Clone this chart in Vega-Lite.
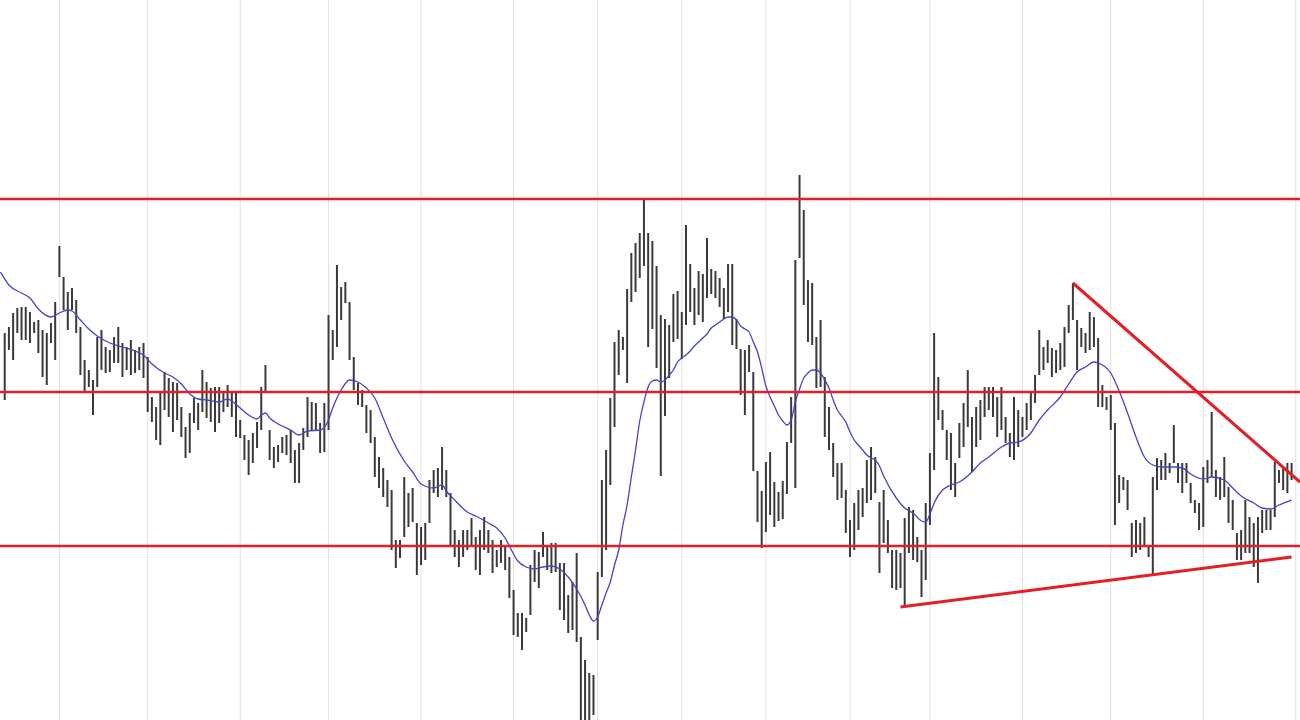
{
  "$schema": "https://vega.github.io/schema/vega-lite/v6.json",
  "width": 1300,
  "height": 720,
  "padding": 0,
  "autosize": {"type": "fit", "contains": "padding"},
  "background": "white",
  "config": {"view": {"stroke": null}},
  "datasets": {
    "bars": [
      {"i":0,"h":387,"l":320},{"i":1,"h":393,"l":370},{"i":2,"h":407,"l":360},{"i":3,"h":412,"l":387},{"i":4,"h":413,"l":380},{"i":5,"h":413,"l":380},{"i":6,"h":408,"l":377},{"i":7,"h":398,"l":387},{"i":8,"h":400,"l":367},{"i":9,"h":390,"l":343},
      {"i":10,"h":387,"l":335},{"i":11,"h":397,"l":377},{"i":12,"h":418,"l":360},{"i":13,"h":474,"l":443},{"i":14,"h":443,"l":410},{"i":15,"h":428,"l":390},{"i":16,"h":432,"l":410},{"i":17,"h":420,"l":387},{"i":18,"h":393,"l":345},{"i":19,"h":360,"l":327},
      {"i":20,"h":350,"l":333},{"i":21,"h":340,"l":305},{"i":22,"h":383,"l":333},{"i":23,"h":390,"l":350},{"i":24,"h":373,"l":347},{"i":25,"h":370,"l":348},{"i":26,"h":383,"l":357},{"i":27,"h":393,"l":357},{"i":28,"h":377,"l":343},{"i":29,"h":373,"l":350},
      {"i":30,"h":380,"l":345},{"i":31,"h":370,"l":347},{"i":32,"h":373,"l":350},{"i":33,"h":377,"l":342},{"i":34,"h":363,"l":308},{"i":35,"h":323,"l":298},{"i":36,"h":313,"l":280},{"i":37,"h":327,"l":275},{"i":38,"h":348,"l":310},{"i":39,"h":342,"l":303},
      {"i":40,"h":338,"l":288},{"i":41,"h":337,"l":300},{"i":42,"h":313,"l":283},{"i":43,"h":293,"l":262},{"i":44,"h":307,"l":267},{"i":45,"h":322,"l":297},{"i":46,"h":317,"l":290},{"i":47,"h":350,"l":308},{"i":48,"h":338,"l":302},{"i":49,"h":332,"l":298},
      {"i":50,"h":333,"l":288},{"i":51,"h":333,"l":297},{"i":52,"h":328,"l":308},{"i":53,"h":335,"l":313},{"i":54,"h":327,"l":303},{"i":55,"h":327,"l":283},{"i":56,"h":300,"l":282},{"i":57,"h":285,"l":260},{"i":58,"h":280,"l":245},{"i":59,"h":287,"l":257},
      {"i":60,"h":298,"l":272},{"i":61,"h":333,"l":290},{"i":62,"h":355,"l":327},{"i":63,"h":290,"l":260},{"i":64,"h":273,"l":252},{"i":65,"h":275,"l":258},{"i":66,"h":283,"l":267},{"i":67,"h":285,"l":265},{"i":68,"h":290,"l":257},{"i":69,"h":270,"l":237},
      {"i":70,"h":277,"l":237},{"i":71,"h":292,"l":270},{"i":72,"h":323,"l":283},{"i":73,"h":318,"l":290},{"i":74,"h":317,"l":290},{"i":75,"h":297,"l":267},{"i":76,"h":317,"l":268},{"i":77,"h":405,"l":290},{"i":78,"h":390,"l":360},{"i":79,"h":455,"l":373},
      {"i":80,"h":433,"l":400},{"i":81,"h":438,"l":417},{"i":82,"h":418,"l":360},{"i":83,"h":363,"l":330},{"i":84,"h":337,"l":315},{"i":85,"h":330,"l":313},{"i":86,"h":315,"l":287},{"i":87,"h":310,"l":277},{"i":88,"h":283,"l":243},{"i":89,"h":263,"l":232},
      {"i":90,"h":252,"l":223},{"i":91,"h":240,"l":213},{"i":92,"h":230,"l":170},{"i":93,"h":180,"l":152},{"i":94,"h":180,"l":162},{"i":95,"h":243,"l":183},{"i":96,"h":227,"l":193},{"i":97,"h":232,"l":198},{"i":98,"h":197,"l":145},{"i":99,"h":193,"l":155},
      {"i":100,"h":197,"l":160},{"i":101,"h":240,"l":197},{"i":102,"h":250,"l":227},{"i":103,"h":252,"l":223},{"i":104,"h":273,"l":230},{"i":105,"h":250,"l":223},{"i":106,"h":227,"l":173},{"i":107,"h":190,"l":163},{"i":108,"h":180,"l":153},{"i":109,"h":190,"l":163},
      {"i":110,"h":190,"l":170},{"i":111,"h":202,"l":173},{"i":112,"h":183,"l":150},{"i":113,"h":190,"l":145},{"i":114,"h":203,"l":170},{"i":115,"h":190,"l":167},{"i":116,"h":180,"l":147},{"i":117,"h":170,"l":153},{"i":118,"h":180,"l":157},{"i":119,"h":173,"l":150},
      {"i":120,"h":163,"l":122},{"i":121,"h":130,"l":85},{"i":122,"h":107,"l":83},{"i":123,"h":107,"l":70},{"i":124,"h":102,"l":88},{"i":125,"h":155,"l":105},{"i":126,"h":170,"l":138},{"i":127,"h":168,"l":132},{"i":128,"h":188,"l":163},{"i":129,"h":173,"l":150},
      {"i":130,"h":177,"l":147},{"i":131,"h":177,"l":148},{"i":132,"h":157,"l":110},{"i":133,"h":157,"l":100},{"i":134,"h":125,"l":87},{"i":135,"h":138,"l":90},{"i":136,"h":167,"l":78},{"i":137,"h":83,"l":0},{"i":138,"h":60,"l":0},{"i":139,"h":47,"l":0},
      {"i":140,"h":45,"l":5},{"i":141,"h":148,"l":80},{"i":142,"h":240,"l":143},{"i":143,"h":270,"l":170},{"i":144,"h":322,"l":235},{"i":145,"h":378,"l":293},{"i":146,"h":390,"l":345},{"i":147,"h":383,"l":370},{"i":148,"h":431,"l":337},{"i":149,"h":467,"l":418},
      {"i":150,"h":477,"l":428},{"i":151,"h":487,"l":442},{"i":152,"h":521,"l":454},{"i":153,"h":487,"l":373},{"i":154,"h":479,"l":391},{"i":155,"h":454,"l":352},{"i":156,"h":405,"l":244},{"i":157,"h":401,"l":304},{"i":158,"h":395,"l":342},{"i":159,"h":426,"l":378},
      {"i":160,"h":429,"l":381},{"i":161,"h":408,"l":361},{"i":162,"h":495,"l":395},{"i":163,"h":456,"l":408},{"i":164,"h":432,"l":395},{"i":165,"h":449,"l":405},{"i":166,"h":446,"l":398},{"i":167,"h":482,"l":422},{"i":168,"h":451,"l":426},{"i":169,"h":449,"l":422},
      {"i":170,"h":442,"l":413},{"i":171,"h":432,"l":401},{"i":172,"h":456,"l":408},{"i":173,"h":456,"l":375},{"i":174,"h":401,"l":371},{"i":175,"h":371,"l":325},{"i":176,"h":370,"l":305},{"i":177,"h":375,"l":348},{"i":178,"h":348,"l":249},{"i":179,"h":249,"l":198},
      {"i":180,"h":229,"l":172},{"i":181,"h":258,"l":188},{"i":182,"h":268,"l":205},{"i":183,"h":238,"l":193},{"i":184,"h":228,"l":199},{"i":185,"h":239,"l":201},{"i":186,"h":278,"l":226},{"i":187,"h":323,"l":277},{"i":188,"h":460,"l":232},{"i":189,"h":545,"l":462},
      {"i":190,"h":510,"l":415},{"i":191,"h":440,"l":378},{"i":192,"h":437,"l":375},{"i":193,"h":383,"l":332},{"i":194,"h":400,"l":333},{"i":195,"h":343,"l":283},{"i":196,"h":313,"l":270},{"i":197,"h":277,"l":243},{"i":198,"h":257,"l":220},{"i":199,"h":257,"l":222},
      {"i":200,"h":230,"l":187},{"i":201,"h":200,"l":163},{"i":202,"h":217,"l":170},{"i":203,"h":230,"l":190},{"i":204,"h":232,"l":203},{"i":205,"h":260,"l":217},{"i":206,"h":273,"l":220},{"i":207,"h":263,"l":227},{"i":208,"h":218,"l":147},{"i":209,"h":230,"l":177},
      {"i":210,"h":200,"l":167},{"i":211,"h":170,"l":132},{"i":212,"h":170,"l":130},{"i":213,"h":167,"l":132},{"i":214,"h":202,"l":113},{"i":215,"h":213,"l":167},{"i":216,"h":210,"l":160},{"i":217,"h":183,"l":158},{"i":218,"h":170,"l":123},{"i":219,"h":217,"l":140},
      {"i":220,"h":267,"l":195},{"i":221,"h":387,"l":250},{"i":222,"h":343,"l":300},{"i":223,"h":310,"l":290},{"i":224,"h":290,"l":260},{"i":225,"h":287,"l":230},{"i":226,"h":257,"l":223},{"i":227,"h":297,"l":262},{"i":228,"h":317,"l":273},{"i":229,"h":350,"l":293},
      {"i":230,"h":303,"l":248},{"i":231,"h":313,"l":273},{"i":232,"h":320,"l":280},{"i":233,"h":333,"l":303},{"i":234,"h":333,"l":310},{"i":235,"h":333,"l":303},{"i":236,"h":323,"l":283},{"i":237,"h":333,"l":290},{"i":238,"h":303,"l":277},{"i":239,"h":287,"l":263},
      {"i":240,"h":323,"l":260},{"i":241,"h":310,"l":273},{"i":242,"h":303,"l":283},{"i":243,"h":317,"l":290},{"i":244,"h":327,"l":300},{"i":245,"h":345,"l":317},{"i":246,"h":390,"l":345},{"i":247,"h":373,"l":350},{"i":248,"h":380,"l":357},{"i":249,"h":372,"l":343},
      {"i":250,"h":370,"l":347},{"i":251,"h":377,"l":350},{"i":252,"h":393,"l":353},{"i":253,"h":415,"l":387},{"i":254,"h":437,"l":400},{"i":255,"h":400,"l":350},{"i":256,"h":392,"l":373},{"i":257,"h":387,"l":367},{"i":258,"h":408,"l":370},{"i":259,"h":403,"l":373},
      {"i":260,"h":382,"l":313},{"i":261,"h":335,"l":313},{"i":262,"h":323,"l":310},{"i":263,"h":325,"l":290},{"i":264,"h":297,"l":195},{"i":265,"h":245,"l":217},{"i":266,"h":243,"l":230},{"i":267,"h":240,"l":210},{"i":268,"h":197,"l":163},{"i":269,"h":200,"l":167},
      {"i":270,"h":197,"l":170},{"i":271,"h":203,"l":173},{"i":272,"h":173,"l":163},{"i":273,"h":243,"l":145},{"i":274,"h":262,"l":230},{"i":275,"h":260,"l":240},{"i":276,"h":267,"l":240},{"i":277,"h":257,"l":247},{"i":278,"h":295,"l":257},{"i":279,"h":257,"l":237},
      {"i":280,"h":257,"l":227},{"i":281,"h":257,"l":237},{"i":282,"h":237,"l":217},{"i":283,"h":220,"l":207},{"i":284,"h":217,"l":190},{"i":285,"h":253,"l":193},{"i":286,"h":260,"l":237},{"i":287,"h":308,"l":243},{"i":288,"h":250,"l":223},{"i":289,"h":243,"l":220},
      {"i":290,"h":263,"l":223},{"i":291,"h":233,"l":197},{"i":292,"h":220,"l":190},{"i":293,"h":187,"l":160},{"i":294,"h":190,"l":160},{"i":295,"h":220,"l":167},{"i":296,"h":203,"l":167},{"i":297,"h":197,"l":153},{"i":298,"h":203,"l":137},{"i":299,"h":210,"l":187},
      {"i":300,"h":210,"l":190},{"i":301,"h":210,"l":190},{"i":302,"h":258,"l":203},{"i":303,"h":250,"l":237},{"i":304,"h":253,"l":230},{"i":305,"h":257,"l":227},{"i":306,"h":257,"l":240}
    ],
    "ma": [
      {"i":-1,"v":448},{"i":1,"v":435},{"i":4,"v":427},{"i":6,"v":422},{"i":8,"v":411},{"i":11,"v":403},{"i":13,"v":407},{"i":15,"v":410},{"i":16,"v":409},{"i":18,"v":400},
      {"i":20,"v":391},{"i":22,"v":384},{"i":25,"v":377},{"i":28,"v":373},{"i":31,"v":369},{"i":33,"v":365},{"i":35,"v":356},{"i":38,"v":347},{"i":40,"v":343},{"i":42,"v":336},
      {"i":44,"v":326},{"i":46,"v":321},{"i":48,"v":320},{"i":51,"v":318},{"i":53,"v":321},{"i":54,"v":319},{"i":56,"v":312},{"i":58,"v":305},{"i":60,"v":301},{"i":61,"v":305},
      {"i":62,"v":307},{"i":63,"v":302},{"i":65,"v":296},{"i":68,"v":290},{"i":70,"v":285},{"i":72,"v":289},{"i":75,"v":290},{"i":77,"v":300},{"i":78,"v":312},{"i":79,"v":322},
      {"i":80,"v":330},{"i":82,"v":340},{"i":84,"v":338},{"i":86,"v":332},{"i":88,"v":322},{"i":90,"v":302},{"i":92,"v":282},{"i":95,"v":259},{"i":97,"v":248},{"i":99,"v":236},
      {"i":102,"v":232},{"i":104,"v":235},{"i":105,"v":229},{"i":107,"v":220},{"i":110,"v":208},{"i":112,"v":204},{"i":115,"v":197},{"i":117,"v":192},{"i":119,"v":182},{"i":120,"v":174},
      {"i":122,"v":159},{"i":124,"v":153},{"i":126,"v":151},{"i":128,"v":153},{"i":130,"v":154},{"i":132,"v":151},{"i":134,"v":143},{"i":136,"v":131},{"i":138,"v":115},{"i":139,"v":105},
      {"i":140,"v":99},{"i":141,"v":103},{"i":142,"v":115},{"i":143,"v":127},{"i":144,"v":138},{"i":145,"v":155},{"i":146,"v":170},{"i":147,"v":195},{"i":148,"v":215},{"i":149,"v":243},
      {"i":150,"v":270},{"i":151,"v":299},{"i":152,"v":318},{"i":153,"v":333},{"i":154,"v":339},{"i":155,"v":340},{"i":156,"v":338},{"i":157,"v":340},{"i":158,"v":345},{"i":159,"v":350},
      {"i":160,"v":358},{"i":161,"v":362},{"i":162,"v":365},{"i":163,"v":369},{"i":164,"v":374},{"i":165,"v":378},{"i":166,"v":382},{"i":167,"v":386},{"i":168,"v":392},{"i":169,"v":395},
      {"i":170,"v":398},{"i":171,"v":401},{"i":172,"v":403},{"i":173,"v":403},{"i":174,"v":400},{"i":175,"v":394},{"i":176,"v":391},{"i":177,"v":388},{"i":178,"v":378},{"i":179,"v":368},
      {"i":180,"v":352},{"i":181,"v":334},{"i":182,"v":323},{"i":183,"v":314},{"i":184,"v":305},{"i":185,"v":299},{"i":186,"v":295},{"i":187,"v":300},{"i":188,"v":318},{"i":189,"v":331},
      {"i":190,"v":342},{"i":191,"v":347},{"i":192,"v":350},{"i":193,"v":350},{"i":194,"v":347},{"i":195,"v":340},{"i":196,"v":332},{"i":197,"v":320},{"i":198,"v":310},{"i":199,"v":304},
      {"i":200,"v":298},{"i":201,"v":288},{"i":202,"v":280},{"i":203,"v":275},{"i":204,"v":270},{"i":205,"v":265},{"i":206,"v":262},{"i":207,"v":260},{"i":208,"v":254},{"i":209,"v":244},
      {"i":212,"v":222},{"i":214,"v":212},{"i":216,"v":207},{"i":218,"v":199},{"i":219,"v":198},{"i":220,"v":206},{"i":221,"v":217},{"i":223,"v":230},{"i":225,"v":235},{"i":227,"v":238},
      {"i":230,"v":248},{"i":232,"v":257},{"i":234,"v":263},{"i":237,"v":273},{"i":239,"v":277},{"i":241,"v":278},{"i":244,"v":287},{"i":246,"v":300},{"i":248,"v":310},{"i":251,"v":323},
      {"i":253,"v":336},{"i":255,"v":348},{"i":257,"v":353},{"i":259,"v":358},{"i":260,"v":357},{"i":263,"v":347},{"i":265,"v":329},{"i":267,"v":307},{"i":269,"v":283},{"i":271,"v":263},
      {"i":273,"v":255},{"i":275,"v":253},{"i":278,"v":253},{"i":280,"v":252},{"i":282,"v":246},{"i":285,"v":241},{"i":287,"v":243},{"i":290,"v":240},{"i":292,"v":232},{"i":294,"v":224},
      {"i":297,"v":217},{"i":299,"v":212},{"i":301,"v":211},{"i":303,"v":215},{"i":306,"v":220}
    ],
    "grid": [
      {"g":13},{"g":34},{"g":56},{"g":77},{"g":99},{"g":121},{"g":141},{"g":161},{"g":181},{"g":201},{"g":220},{"g":242},{"g":263},{"g":285},{"g":307}
    ],
    "levels": [{"v":521},{"v":328},{"v":174}],
    "trends": [
      {"id":"down","i":254,"v":437},{"id":"down","i":308,"v":238},
      {"id":"up","i":213,"v":113},{"id":"up","i":306,"v":163}
    ]
  },
  "layer": [
    {
      "data": {"name": "grid"},
      "mark": {"type": "rule", "color": "#e0e0e0", "strokeWidth": 1, "clip": true},
      "encoding": {
        "x": {"field": "g", "type": "quantitative", "scale": {"domain": [-1.12, 308], "nice": false, "zero": false}, "axis": null}
      }
    },
    {
      "data": {"name": "bars"},
      "mark": {"type": "rule", "color": "#3a3a3a", "strokeWidth": 2, "clip": true},
      "encoding": {
        "x": {"field": "i", "type": "quantitative", "scale": {"domain": [-1.12, 308], "nice": false, "zero": false}, "axis": null},
        "y": {"field": "h", "type": "quantitative", "scale": {"domain": [0, 720], "nice": false, "zero": false}, "axis": null},
        "y2": {"field": "l"}
      }
    },
    {
      "data": {"name": "ma"},
      "mark": {"type": "line", "color": "#4444c4", "strokeWidth": 1.3, "interpolate": "monotone", "clip": true},
      "encoding": {
        "x": {"field": "i", "type": "quantitative", "scale": {"domain": [-1.12, 308], "nice": false, "zero": false}, "axis": null},
        "y": {"field": "v", "type": "quantitative", "scale": {"domain": [0, 720], "nice": false, "zero": false}, "axis": null}
      }
    },
    {
      "data": {"name": "levels"},
      "mark": {"type": "rule", "color": "#e41e26", "strokeWidth": 2.5, "clip": true},
      "encoding": {
        "y": {"field": "v", "type": "quantitative", "scale": {"domain": [0, 720], "nice": false, "zero": false}, "axis": null}
      }
    },
    {
      "data": {"name": "trends"},
      "mark": {"type": "line", "color": "#e41e26", "strokeWidth": 3, "clip": true},
      "encoding": {
        "x": {"field": "i", "type": "quantitative", "scale": {"domain": [-1.12, 308], "nice": false, "zero": false}, "axis": null},
        "y": {"field": "v", "type": "quantitative", "scale": {"domain": [0, 720], "nice": false, "zero": false}, "axis": null},
        "detail": {"field": "id", "type": "nominal"}
      }
    }
  ]
}
